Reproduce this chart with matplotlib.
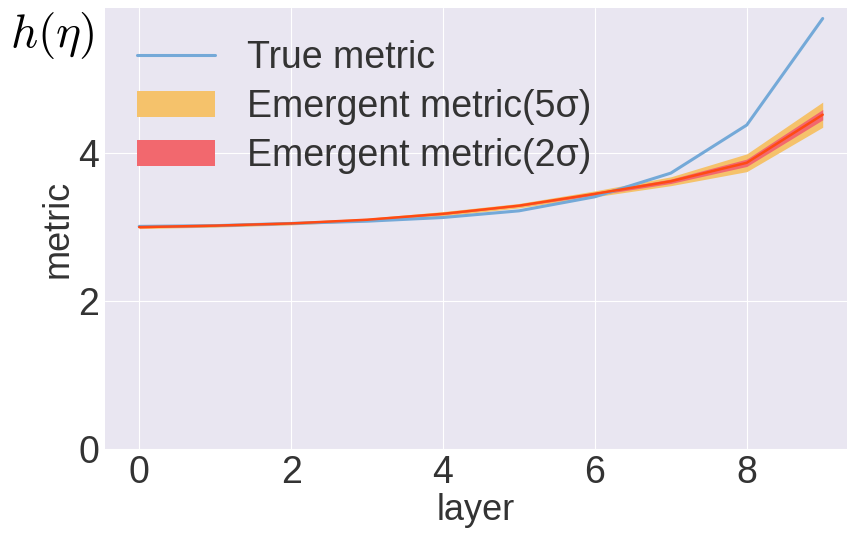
import matplotlib
matplotlib.use("Agg")
import matplotlib.pyplot as plt
import numpy as np

plt.style.use("seaborn-v0_8-darkgrid")
plt.rcParams["font.family"] = ["Liberation Sans", "DejaVu Sans"]
plt.rcParams["mathtext.fontset"] = "cm"

layers = np.arange(10)
true_metric = [3.01, 3.02, 3.05, 3.08, 3.13, 3.22, 3.41, 3.73, 4.38, 5.82]
emergent = [3.00, 3.02, 3.05, 3.10, 3.18, 3.29, 3.45, 3.62, 3.87, 4.52]
spread_5s = [0.02, 0.02, 0.02, 0.02, 0.03, 0.03, 0.04, 0.06, 0.12, 0.17]
spread_2s = [0.01, 0.01, 0.01, 0.01, 0.01, 0.01, 0.02, 0.03, 0.05, 0.07]

emergent = np.array(emergent)
s5 = np.array(spread_5s)
s2 = np.array(spread_2s)

fig = plt.figure(figsize=(8.47, 5.43), dpi=100)
ax = fig.add_axes([0.124, 0.173, 0.876, 0.812])
ax.set_facecolor("#e9e6f1")

ax.plot(layers, true_metric, color="#74a9d8", lw=2.2, label="True metric")
ax.fill_between(layers, emergent - s5, emergent + s5, color="#f5c26b", lw=0,
                label="Emergent metric(5σ)")
ax.fill_between(layers, emergent - s2, emergent + s2, color="#f2686e", lw=0,
                label="Emergent metric(2σ)")
ax.plot(layers, emergent, color="#ff4a14", lw=1.8)

ax.set_xlim(-0.45, 9.32)
ax.set_ylim(0, 5.96)
ax.set_xticks([0, 2, 4, 6, 8])
ax.set_yticks([0, 2, 4])
ax.tick_params(labelsize=27, colors="#333333", pad=4)
ax.set_xlabel("layer", fontsize=26, color="#333333", labelpad=2)
ax.set_ylabel("metric", fontsize=26, color="#333333", labelpad=2)

leg = ax.legend(loc="upper left", fontsize=27, frameon=False,
                handlelength=2.08, borderaxespad=0.45, labelspacing=0.35,
                handletextpad=0.85, handleheight=0.7)
for t in leg.get_texts():
    t.set_color("#333333")

fig.text(0.012, 0.934, r"$h(\eta)$", fontsize=34, color="black", va="center")

fig.savefig("out.png", dpi=100)
